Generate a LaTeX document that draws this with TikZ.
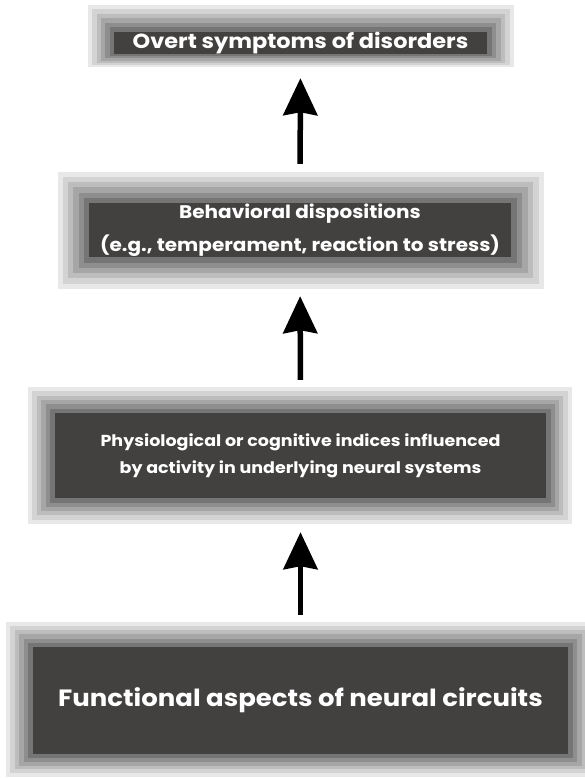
\documentclass[tikz,border=0pt]{standalone}
\usepackage{fontspec}
\setmainfont{Poppins}
\newfontfamily\boxfont[FakeStretch=1.1]{Poppins}
\usetikzlibrary{arrows.meta,calc,backgrounds}

\definecolor{frameA}{HTML}{E8E8E8}
\definecolor{frameB}{HTML}{D3D3D3}
\definecolor{frameC}{HTML}{BDBDBD}
\definecolor{frameD}{HTML}{A6A6A6}
\definecolor{frameE}{HTML}{8E8E8E}
\definecolor{frameF}{HTML}{757575}
\definecolor{boxDark}{HTML}{434140}

% stepped grey frame between the outer corners (#1sw, #1ne) and the dark node #1
\newcommand{\stepframe}[1]{%
  \begin{pgfonlayer}{background}
    \foreach \k/\c in {0/frameA,1/frameB,2/frameC,3/frameD,4/frameE,5/frameF} {
      \fill[\c] ($(#1sw)!\k/6!(#1.south west)$) rectangle ($(#1ne)!\k/6!(#1.north east)$);
    }
  \end{pgfonlayer}}

\begin{document}
\begin{tikzpicture}[x=1pt,y=-1pt,
  darkbox/.style={fill=boxDark,text=white,inner sep=0pt,align=center},
  uparrow/.style={-{Stealth[length=37pt,width=34pt,inset=3pt]},line width=5.5pt}]
  \useasboundingbox (0,0) rectangle (584,778);

  % Overt symptoms
  \node[darkbox,minimum width=373pt,minimum height=22pt,font=\boxfont\bfseries\fontsize{20.4}{24}\selectfont] (b1) at (300.5,43) {Overt symptoms of disorders};
  \coordinate (b1sw) at (88,67);
  \coordinate (b1ne) at (514,5);
  \stepframe{b1}

  % Behavioral dispositions
  \node[darkbox,minimum width=422pt,minimum height=54pt,font=\boxfont\bfseries\fontsize{18.2}{33}\selectfont] (b2) at (300,230) {Behavioral dispositions\\(e.g., temperament, reaction to stress)};
  \coordinate (b2sw) at (58,289);
  \coordinate (b2ne) at (544,172);
  \stepframe{b2}

  % Physiological or cognitive indices
  \node[darkbox,minimum width=491pt,minimum height=85pt,font=\boxfont\bfseries\fontsize{15.9}{27}\selectfont] (b3) at (300.5,455.5) {Physiological or cognitive indices influenced\\by activity in underlying neural systems};
  \coordinate (b3sw) at (28,524);
  \coordinate (b3ne) at (572,387);
  \stepframe{b3}

  % Functional aspects
  \node[darkbox,minimum width=535pt,minimum height=107pt,font=\boxfont\bfseries\fontsize{23.6}{28}\selectfont] (b4) at (300.5,700.5) {Functional aspects of neural circuits};
  \coordinate (b4sw) at (6,777);
  \coordinate (b4ne) at (595,622);
  \stepframe{b4}

  \draw[uparrow,shorten <=39pt,shorten >=24pt] (b2.north) -- (b1.south);
  \draw[uparrow,shorten <=33pt,shorten >=39pt] (b3.north) -- (b2.south);
  \draw[uparrow,shorten <=32pt,shorten >=34pt] (b4.north) -- (b3.south);
\end{tikzpicture}
\end{document}
